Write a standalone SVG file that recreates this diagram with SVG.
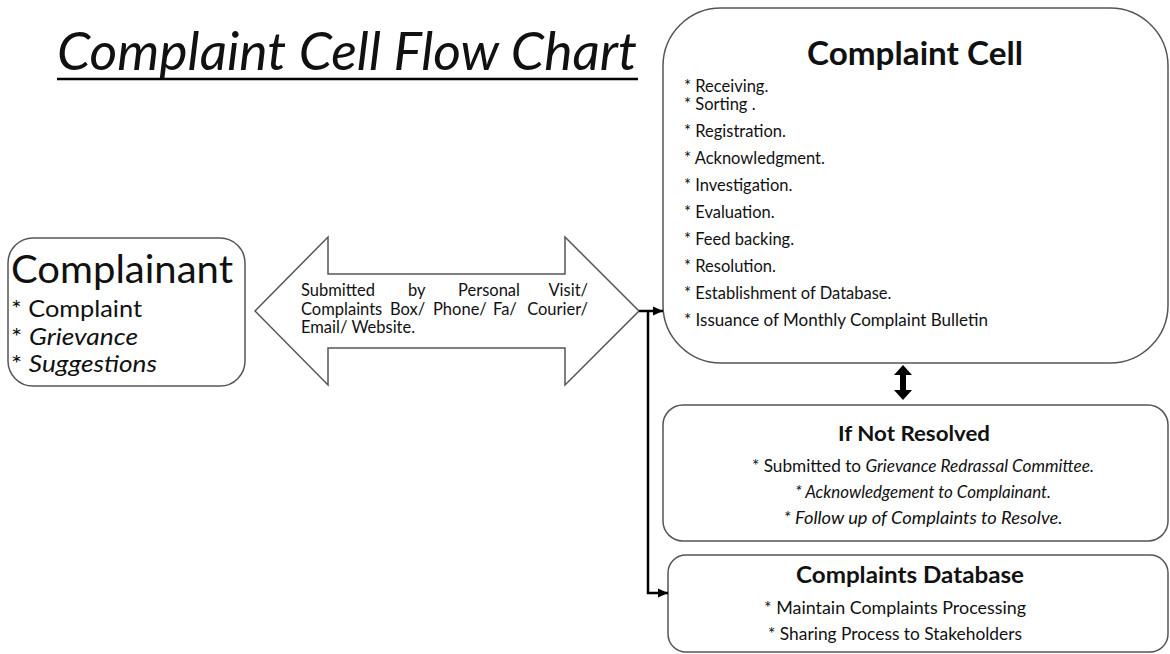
<svg xmlns="http://www.w3.org/2000/svg" width="1170" height="654" viewBox="0 0 1170 654">
<defs>
<style>
text{font-family:Lato,"Open Sans","Liberation Sans",sans-serif;fill:#111;}
.box{fill:#fff;stroke:#555;stroke-width:1.5;}
.it{font-style:italic;}
.b{font-weight:bold;}
.item{font-size:16.5px;}
.arr{font-size:16.5px;}
.conn{fill:none;stroke:#000;stroke-width:2.5;}
</style>
<marker id="ah" markerUnits="userSpaceOnUse" markerWidth="10" markerHeight="10" viewBox="0 0 10 10" refX="10" refY="5" orient="auto">
<path d="M0,0.5 L10,5 L0,9.5 Z" fill="#000"/>
</marker>
</defs>
<rect width="1170" height="654" fill="#fff"/>

<g id="title">
<text x="57" y="70" font-size="52" class="it" textLength="580" lengthAdjust="spacingAndGlyphs">Complaint Cell Flow Chart</text>
<line x1="57" y1="79" x2="638" y2="79" stroke="#000" stroke-width="2.5"/>
</g>

<g id="complainant">
<rect class="box" x="8" y="238" width="237" height="148" rx="25"/>
<text x="11" y="283" font-size="38" textLength="222" lengthAdjust="spacingAndGlyphs">Complainant</text>
<text x="11" y="317" font-size="23" textLength="131" lengthAdjust="spacingAndGlyphs">* Complaint</text>
<text x="11" y="345" font-size="23" textLength="127" lengthAdjust="spacingAndGlyphs">* <tspan class="it">Grievance</tspan></text>
<text x="11" y="372" font-size="23" textLength="146" lengthAdjust="spacingAndGlyphs">* <tspan class="it">Suggestions</tspan></text>
</g>

<g id="channel">
<polygon class="box" points="255,311 328,237 328,274 565,274 565,237 639,311 565,385 565,348 328,348 328,385"/>
<text class="arr" y="296" x="301">Submitted</text>
<text class="arr" y="296" x="408">by</text>
<text class="arr" y="296" x="458">Personal</text>
<text class="arr" y="296" x="588" text-anchor="end">Visit/</text>
<text class="arr" y="314.5" x="301">Complaints</text>
<text class="arr" y="314.5" x="390">Box/</text>
<text class="arr" y="314.5" x="433">Phone/</text>
<text class="arr" y="314.5" x="493">Fa/</text>
<text class="arr" y="314.5" x="588" text-anchor="end">Courier/</text>
<text class="arr" y="333" x="301">Email/ Website.</text>
</g>

<g id="complaint-cell">
<rect class="box" x="663" y="8" width="505" height="355" rx="58"/>
<text x="915" y="65" font-size="32" class="b" text-anchor="middle" textLength="216" lengthAdjust="spacingAndGlyphs">Complaint Cell</text>
<text class="item" x="684" y="92">* Receiving.</text>
<text class="item" x="684" y="110">* Sorting .</text>
<text class="item" x="684" y="137">* Registration.</text>
<text class="item" x="684" y="164">* Acknowledgment.</text>
<text class="item" x="684" y="191">* Investigation.</text>
<text class="item" x="684" y="218">* Evaluation.</text>
<text class="item" x="684" y="245">* Feed backing.</text>
<text class="item" x="684" y="272">* Resolution.</text>
<text class="item" x="684" y="299">* Establishment of Database.</text>
<text class="item" x="684" y="326" textLength="304" lengthAdjust="spacingAndGlyphs">* Issuance of Monthly  Complaint Bulletin</text>
</g>

<g id="not-resolved">
<rect class="box" x="663" y="405" width="505" height="136" rx="20"/>
<text x="914" y="441" font-size="21" class="b" text-anchor="middle" textLength="152" lengthAdjust="spacingAndGlyphs">If Not  Resolved</text>
<text x="923" y="472" font-size="17" text-anchor="middle" textLength="342" lengthAdjust="spacingAndGlyphs">* Submitted to  <tspan class="it">Grievance Redrassal Committee.</tspan></text>
<text x="923" y="498" font-size="17" class="it" text-anchor="middle" textLength="256" lengthAdjust="spacingAndGlyphs">* Acknowledgement to Complainant.</text>
<text x="923" y="524" font-size="17" class="it" text-anchor="middle" textLength="279" lengthAdjust="spacingAndGlyphs">* Follow up of Complaints  to Resolve.</text>
</g>

<g id="database">
<rect class="box" x="668" y="555" width="500" height="97" rx="18"/>
<text x="910" y="583" font-size="22" class="b" text-anchor="middle" textLength="228" lengthAdjust="spacingAndGlyphs">Complaints Database</text>
<text x="895" y="614" font-size="18" text-anchor="middle" textLength="262" lengthAdjust="spacingAndGlyphs">*  Maintain  Complaints Processing</text>
<text x="895" y="640" font-size="18" text-anchor="middle" textLength="254" lengthAdjust="spacingAndGlyphs">* Sharing Process  to Stakeholders</text>
</g>

<g id="connectors">
<line class="conn" x1="639" y1="311" x2="663" y2="311" stroke-width="2" marker-end="url(#ah)"/>
<polyline class="conn" points="648,311 648,593 668,593" marker-end="url(#ah)"/>
<polygon points="903,365 912,375 906,375 906,390 912,390 903,400 894,390 900,390 900,375 894,375" fill="#000"/>
</g>
</svg>
